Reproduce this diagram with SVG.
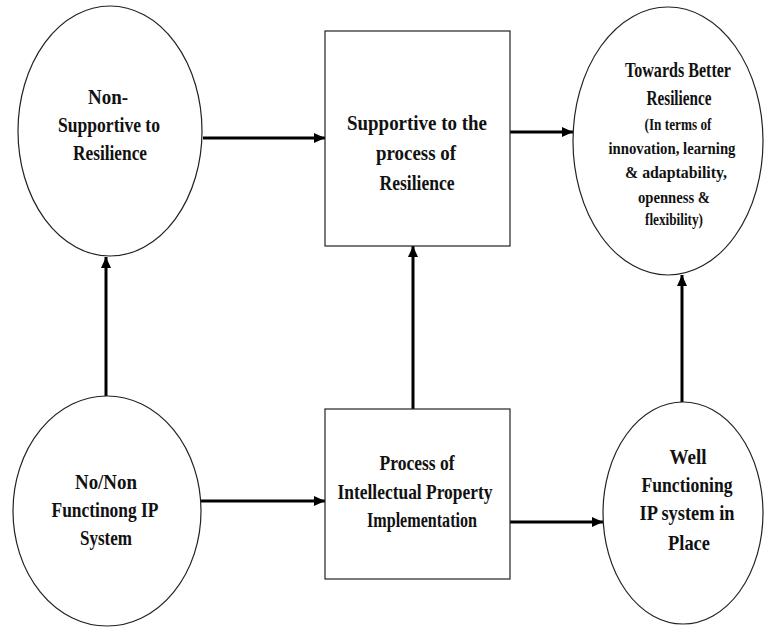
<svg xmlns="http://www.w3.org/2000/svg" width="765" height="627" viewBox="0 0 765 627">
<defs>
<marker id="ah" markerUnits="userSpaceOnUse" markerWidth="11" markerHeight="11" viewBox="0 0 11 11" refX="11" refY="5.5" orient="auto">
<path d="M0,0.5 L11,5.5 L0,10.5 Z" fill="#000"/>
</marker>
<style>
.shape{fill:#fff;stroke:#222;stroke-width:1.2}
.edge{fill:none;stroke:#000;stroke-width:3;marker-end:url(#ah)}
.lbl{font-weight:bold;fill:#111;text-anchor:middle;font-size:21px}
.sm{font-size:16px}
</style>
</defs>
<rect width="765" height="627" fill="#fff"/>
<g id="connectors">
<line class="edge" x1="203" y1="138" x2="325" y2="138"/>
<line class="edge" x1="510" y1="132" x2="573" y2="132"/>
<line class="edge" x1="106" y1="396" x2="106" y2="257"/>
<line class="edge" x1="413" y1="409" x2="413" y2="246"/>
<line class="edge" x1="682" y1="402" x2="682" y2="275"/>
<line class="edge" x1="200" y1="501" x2="325" y2="501"/>
<line class="edge" x1="510" y1="522" x2="603" y2="522"/>
</g>
<g font-family="Liberation Serif, Times New Roman, serif" class="lbl">
<g id="non-supportive">
<ellipse class="shape" cx="110" cy="131" rx="92" ry="125"/>
<text x="108" y="104" textLength="40" lengthAdjust="spacingAndGlyphs">Non-</text>
<text x="109" y="132" textLength="102" lengthAdjust="spacingAndGlyphs">Supportive to</text>
<text x="110" y="160" textLength="74" lengthAdjust="spacingAndGlyphs">Resilience</text>
</g>
<g id="supportive">
<rect class="shape" x="325" y="31" width="185" height="215"/>
<text x="417" y="130" textLength="140" lengthAdjust="spacingAndGlyphs">Supportive to the</text>
<text x="416" y="160" textLength="80" lengthAdjust="spacingAndGlyphs">process of</text>
<text x="417" y="190" textLength="75" lengthAdjust="spacingAndGlyphs">Resilience</text>
</g>
<g id="towards-better">
<ellipse class="shape" cx="668" cy="141" rx="95" ry="134"/>
<text x="678" y="77" textLength="106" lengthAdjust="spacingAndGlyphs">Towards Better</text>
<text x="679" y="105" textLength="65" lengthAdjust="spacingAndGlyphs">Resilience</text>
<text class="sm" x="678" y="130" textLength="67" lengthAdjust="spacingAndGlyphs">(In terms of</text>
<text class="sm" x="672" y="154" textLength="127" lengthAdjust="spacingAndGlyphs">innovation, learning</text>
<text class="sm" x="676" y="178" textLength="102" lengthAdjust="spacingAndGlyphs">&amp;  adaptability,</text>
<text class="sm" x="674" y="203" textLength="72" lengthAdjust="spacingAndGlyphs">openness &amp;</text>
<text class="sm" x="674" y="225" textLength="58" lengthAdjust="spacingAndGlyphs">flexibility)</text>
</g>
<g id="no-ip">
<ellipse class="shape" cx="107" cy="511" rx="94" ry="115"/>
<text x="106" y="489" textLength="62" lengthAdjust="spacingAndGlyphs">No/Non</text>
<text x="105" y="517" textLength="107" lengthAdjust="spacingAndGlyphs">Functinong IP</text>
<text x="106" y="545" textLength="52" lengthAdjust="spacingAndGlyphs">System</text>
</g>
<g id="process">
<rect class="shape" x="325" y="409" width="185" height="170"/>
<text x="417" y="470" textLength="75" lengthAdjust="spacingAndGlyphs">Process of</text>
<text x="415" y="499" textLength="155" lengthAdjust="spacingAndGlyphs">Intellectual Property</text>
<text x="422" y="527" textLength="110" lengthAdjust="spacingAndGlyphs">Implementation</text>
</g>
<g id="well-functioning">
<ellipse class="shape" cx="683" cy="513" rx="80" ry="111"/>
<text x="688" y="464" textLength="37" lengthAdjust="spacingAndGlyphs">Well</text>
<text x="687" y="492" textLength="91" lengthAdjust="spacingAndGlyphs">Functioning</text>
<text x="687" y="520" textLength="95" lengthAdjust="spacingAndGlyphs">IP system in</text>
<text x="689" y="550" textLength="42" lengthAdjust="spacingAndGlyphs">Place</text>
</g>
</g>
</svg>
